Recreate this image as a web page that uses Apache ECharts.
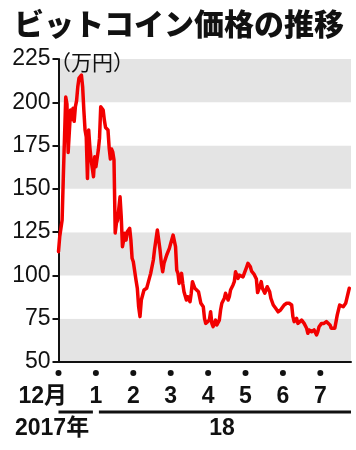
<!DOCTYPE html>
<html>
<head>
<meta charset="utf-8">
<script src="https://cdn.jsdelivr.net/npm/echarts@6/dist/echarts.min.js"></script>
<style>
html,body{margin:0;padding:0;background:#fff;}
#c{width:356px;height:450px;}
</style>
</head>
<body>
<div id="c"></div>
<script>
// ---- data ----
const dates = [
 '12/01','12/02','12/04','12/05','12/07','12/08','12/09','12/11','12/12','12/13','12/14','12/15','12/16','12/17','12/18','12/20','12/21','12/22','12/23','12/24','12/25','12/26','12/27','12/28','12/30','12/31',
 '01/01','01/03','01/04','01/05','01/06','01/07','01/08','01/09','01/11','01/12','01/13','01/14','01/15','01/16','01/17','01/18','01/19','01/21','01/22','01/23','01/25','01/26','01/27','01/29','01/30','01/31',
 '02/01','02/03','02/04','02/05','02/06','02/07','02/08','02/09','02/11','02/12','02/13','02/14','02/16','02/17','02/18','02/19','02/21','02/22','02/23','02/24','02/26','02/27','02/28',
 '03/01','03/03','03/05','03/06','03/07','03/08','03/10','03/11','03/12','03/14','03/15','03/17','03/18','03/19','03/21','03/22','03/24','03/26','03/28','03/29','03/30','03/31',
 '04/02','04/03','04/04','04/05','04/07','04/08','04/10','04/11','04/12','04/14','04/15','04/17','04/18','04/19','04/21','04/22','04/23','04/25','04/26','04/27','04/29','04/30',
 '05/02','05/03','05/05','05/06','05/08','05/10','05/11','05/13','05/14','05/15','05/17','05/18','05/19','05/21','05/22','05/24','05/26','05/28','05/30','05/31',
 '06/02','06/04','06/06','06/08','06/09','06/10','06/12','06/13','06/14','06/16','06/17','06/18','06/20','06/21','06/22','06/24','06/25','06/26','06/28','06/29','06/30',
 '07/02','07/03','07/04','07/06','07/07','07/09','07/10','07/11','07/13','07/14','07/15','07/17','07/18','07/20','07/21','07/22','07/24','07/25'
];
const prices = [
 113.7,122.3,132,157,203,199,171,195.5,190,196.5,189,197.5,201,209,214,215.7,209,195.5,184,180,156,184,174,167,157,168.5,
 162.8,172.4,179.3,197.4,198.4,195.5,189.7,185.4,184,173.6,167.2,173,171.2,166.6,124.5,130.3,132,145.4,133.9,116.6,124.3,120.4,125.2,127.2,120.4,109.9,
 107.9,97.3,92.6,81.9,76.2,85.8,88.7,91.6,92.6,95.4,94.5,101.2,108.9,115.6,115.6,126.2,114.7,107,102.1,107,111.8,113.7,115.6,
 118.5,123.3,116.6,103.1,101.2,95.4,101.2,95.4,90.6,85.8,87.7,84.8,89.7,96.4,92.6,91.6,90.6,83.9,81.9,75.2,72.3,72.3,
 74.2,79,72.3,70.4,74.2,71.4,74.2,80,83.9,86.8,89.7,85.8,87.7,91.6,94.5,96.4,102.1,98.3,100.2,101.2,99.2,101.2,
 105,107,105,102.5,100.8,97.9,90.1,93.9,96.4,92.6,89.7,91.6,93.5,90.6,86.8,82.9,81,79,80,81,
 82.9,83.9,83.9,82.9,76.2,73.3,75.2,72.3,73.3,74.2,73.3,72.3,69.5,66.6,68.5,67.5,67.5,68.5,65.6,67.5,70.4,
 72.3,73.3,72.3,73.3,73.3,71.4,69.5,68.5,69.5,70.4,77.1,82.9,82.9,81.9,82.9,83.9,89.7,92.6
];
const months = [12, 1, 2, 3, 4, 5, 6, 7];
const monthLabels = ['12月', '1', '2', '3', '4', '5', '6', '7'];
const daysInMonth = {12: 31, 1: 31, 2: 28, 3: 31, 4: 30, 5: 31, 6: 30, 7: 31};
const yearLabels = ['2017年', '18'];
const titleText = 'ビットコイン価格の推移';
const unitText = '（万円）';

// ---- build ----
const FONT = "'Liberation Sans', 'Noto Sans CJK JP', sans-serif";
const CJK = "'Noto Sans CJK JP', sans-serif";
function pos(d) {
  const [m, day] = d.split('/').map(Number);
  return months.indexOf(m) + (day - 1) / daysInMonth[m];
}
const seriesData = dates.map((d, i) => [pos(d), prices[i]]);

const chart = echarts.init(document.getElementById('c'), null, {renderer: 'canvas'});
const numStyle = {fontSize: 23, lineHeight: 42, color: '#111', fontFamily: FONT, fontWeight: 'bold'};
chart.setOption({
  animation: false,
  backgroundColor: '#fff',
  title: {
    text: titleText, left: 9, top: 4,
    textStyle: {fontSize: 30, fontWeight: 900, color: '#111', fontFamily: CJK}
  },
  grid: {left: 58.5, right: 5, top: 59, bottom: 88},
  xAxis: {
    type: 'value', min: 0, max: 7.82, interval: 1,
    axisLine: {show: true, lineStyle: {color: '#111', width: 2}},
    axisTick: {show: false},
    splitLine: {show: false},
    axisLabel: {
      margin: 8,
      showMinLabel: true,
      formatter: v => {
        if (!Number.isInteger(v) || monthLabels[v] === undefined) return '';
        // the first month label is offset to the left, drawn separately below
        return v === 0 ? '{dot| }' : '{dot| }\n{num|' + monthLabels[v] + '}';
      },
      rich: {
        dot: {width: 6, height: 6, lineHeight: 6, backgroundColor: '#111', borderRadius: 3},
        num: numStyle
      }
    }
  },
  yAxis: {
    type: 'value', min: 50, max: 225, interval: 25,
    axisLine: {show: true, lineStyle: {color: '#111', width: 2}},
    axisTick: {show: true, length: 6, lineStyle: {color: '#111', width: 2}},
    splitLine: {show: false},
    splitArea: {show: true, areaStyle: {color: ['#e4e4e4', '#ffffff']}},
    axisLabel: {margin: 8, fontSize: 23, color: '#111', fontFamily: FONT}
  },
  series: [{
    type: 'line', data: seriesData, showSymbol: false,
    lineStyle: {color: '#f20000', width: 3.5, join: 'round', cap: 'round'},
    z: 3
  }]
});

// first month label, year brackets and year labels
const px0 = chart.convertToPixel({xAxisIndex: 0}, 0);
const px1 = chart.convertToPixel({xAxisIndex: 0}, 1);
const pxEnd = chart.convertToPixel({xAxisIndex: 0}, 7.82);
const pyMin = chart.convertToPixel({yAxisIndex: 0}, 50);
const lineY = pyMin + 50;
function txt(text, x, y, align, font) {
  return {type: 'text', x: x, y: y, style: {text: text, font: font, fill: '#111',
    align: align, verticalAlign: 'middle', textAlign: align, textVerticalAlign: 'middle'}};
}
chart.setOption({
  graphic: [
    txt(unitText, 50, 62, 'left', '21px ' + CJK),
    txt(monthLabels[0], px0 + 8.5, pyMin + 35, 'right', 'bold 23px ' + FONT),
    {type: 'line', shape: {x1: px0, y1: lineY, x2: px1 - 3, y2: lineY}, style: {stroke: '#111', lineWidth: 3}},
    {type: 'line', shape: {x1: px1 + 3, y1: lineY, x2: pxEnd, y2: lineY}, style: {stroke: '#111', lineWidth: 3}},
    txt(yearLabels[0], 15, lineY + 17, 'left', 'bold 23px ' + FONT),
    txt(yearLabels[1], (px1 + 3 + pxEnd) / 2 - 3, lineY + 17, 'center', 'bold 23px ' + FONT)
  ]
});
</script>
</body>
</html>
